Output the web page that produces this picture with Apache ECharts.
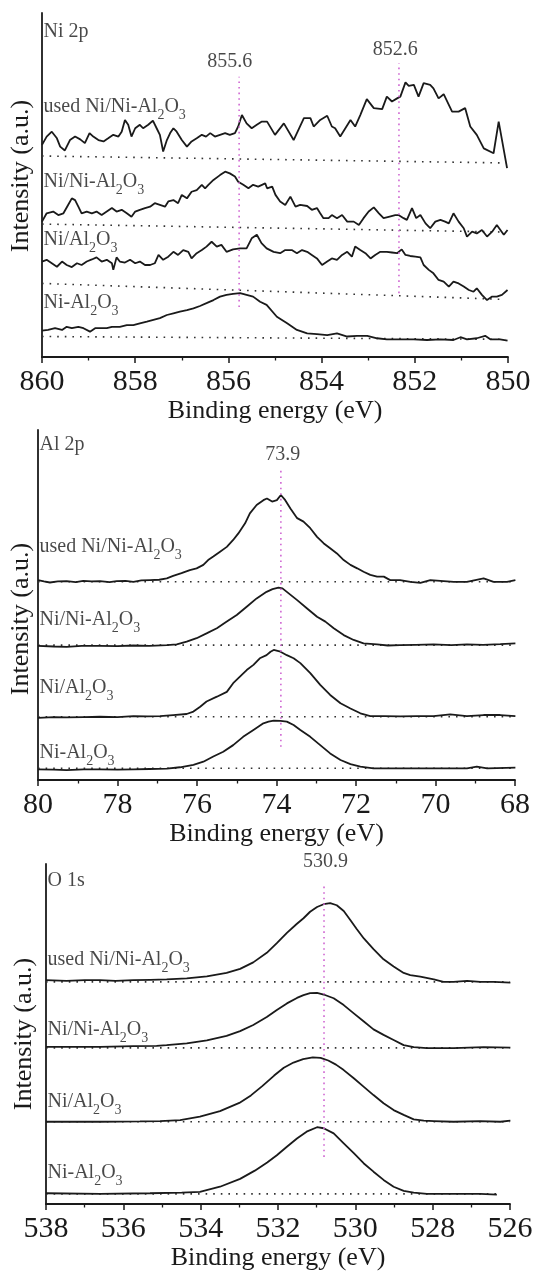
<!DOCTYPE html>
<html>
<head>
<meta charset="UTF-8">
<title>XPS Ni 2p / Al 2p / O 1s</title>
<script src="https://cdn.jsdelivr.net/npm/echarts@6/dist/echarts.min.js"></script>
<style>
body{margin:0;background:#fff;}
#chart{width:534px;height:1277px;}
</style>
</head>
<body>
<div id="chart"></div>
<script type="text/javascript">
// sample names (subscripts written as rich text)
var samples=['used Ni/Ni-Al{s|2}O{s|3}','Ni/Ni-Al{s|2}O{s|3}','Ni/Al{s|2}O{s|3}','Ni-Al{s|2}O{s|3}'];
var seriesNames=['used Ni/Ni-Al2O3','Ni/Ni-Al2O3','Ni/Al2O3','Ni-Al2O3'];

// ---- Ni 2p : [binding energy, intensity a.u.] ----
var ni2p_used=[[860.0,61.1],[859.9,63.5],[859.79,64.9],[859.68,63.0],[859.61,60.6],[859.51,59.5],[859.4,62.5],[859.29,63.5],[859.18,62.7],[859.08,61.6],[858.98,64.5],[858.9,63.5],[858.79,62.5],[858.68,62.1],[858.58,63.0],[858.47,64.0],[858.36,63.5],[858.29,64.9],[858.22,68.3],[858.15,66.9],[858.08,63.5],[858.0,65.9],[857.9,66.9],[857.83,65.9],[857.72,66.9],[857.62,68.1],[857.54,65.9],[857.47,64.0],[857.4,59.2],[857.32,62.5],[857.25,64.5],[857.18,65.9],[857.11,64.9],[857.0,62.5],[856.89,60.6],[856.79,62.1],[856.68,63.0],[856.57,64.0],[856.48,63.5],[856.39,64.5],[856.29,63.5],[856.18,64.0],[856.07,64.5],[855.97,64.0],[855.86,64.5],[855.79,66.4],[855.71,69.7],[855.61,67.3],[855.5,65.9],[855.39,66.9],[855.29,67.8],[855.17,67.8],[855.0,64.0],[854.81,67.3],[854.6,62.5],[854.38,68.8],[854.24,68.8],[854.17,66.4],[854.03,68.3],[853.88,69.5],[853.78,66.4],[853.71,65.9],[853.6,63.5],[853.38,68.3],[853.28,66.4],[853.17,69.7],[853.03,74.3],[852.88,71.7],[852.7,71.4],[852.6,75.0],[852.49,73.6],[852.38,74.5],[852.31,75.0],[852.2,79.1],[852.13,78.1],[852.02,78.4],[851.92,75.0],[851.81,78.9],[851.67,78.4],[851.6,77.4],[851.49,74.5],[851.38,75.7],[851.2,70.7],[851.06,70.7],[850.92,71.7],[850.81,66.4],[850.67,64.0],[850.52,60.1],[850.31,58.7],[850.2,67.8],[850.02,54.4]];
var ni2p_ninial=[[860.0,39.0],[859.9,41.4],[859.76,41.9],[859.65,40.9],[859.54,41.4],[859.44,43.8],[859.36,45.7],[859.29,45.2],[859.22,43.3],[859.15,41.4],[859.04,41.9],[858.93,41.4],[858.83,41.9],[858.72,40.9],[858.61,41.9],[858.5,42.9],[858.4,41.9],[858.29,42.4],[858.18,41.4],[858.08,40.4],[858.0,41.9],[857.9,42.4],[857.79,42.9],[857.68,43.3],[857.58,44.3],[857.47,43.8],[857.36,43.3],[857.29,44.8],[857.18,45.2],[857.08,44.3],[857.0,46.7],[856.89,45.7],[856.79,47.6],[856.68,48.1],[856.57,49.6],[856.5,48.6],[856.43,49.6],[856.32,51.0],[856.18,52.4],[856.07,53.4],[855.97,52.9],[855.86,52.0],[855.79,50.5],[855.68,49.6],[855.57,48.6],[855.47,49.6],[855.36,49.1],[855.21,50.0],[855.17,48.6],[855.06,49.1],[854.99,46.7],[854.89,44.8],[854.78,43.8],[854.67,46.2],[854.56,43.3],[854.46,43.8],[854.31,43.5],[854.21,42.4],[854.1,42.9],[854.03,41.4],[853.96,40.0],[853.85,40.0],[853.78,40.9],[853.67,40.0],[853.56,40.9],[853.45,39.0],[853.31,39.0],[853.2,38.0],[853.1,40.0],[852.99,41.9],[852.88,43.1],[852.77,41.4],[852.67,40.0],[852.56,40.4],[852.42,40.9],[852.35,40.9],[852.24,40.0],[852.17,39.5],[852.06,42.9],[851.97,40.0],[851.88,40.9],[851.77,38.5],[851.67,37.1],[851.56,39.0],[851.45,39.5],[851.35,39.0],[851.27,38.5],[851.17,41.4],[851.06,39.0],[850.95,37.1],[850.88,34.7],[850.77,36.1],[850.67,35.6],[850.56,36.6],[850.45,34.7],[850.34,36.1],[850.24,38.0],[850.09,35.2],[850.01,36.6]];
var ni2p_nial=[[860.0,27.5],[859.9,28.0],[859.79,27.0],[859.68,26.0],[859.57,27.5],[859.47,26.5],[859.36,25.9],[859.25,27.0],[859.15,26.5],[859.04,27.5],[858.93,28.1],[858.83,28.7],[858.72,27.5],[858.61,28.0],[858.5,27.0],[858.47,25.1],[858.4,28.7],[858.33,27.5],[858.22,27.2],[858.11,28.0],[858.0,27.0],[857.9,27.5],[857.79,26.5],[857.68,26.5],[857.58,27.0],[857.5,29.4],[857.4,28.0],[857.29,28.9],[857.18,30.3],[857.08,29.4],[856.97,30.8],[856.86,30.3],[856.79,28.4],[856.68,29.9],[856.57,30.8],[856.47,31.8],[856.36,33.2],[856.25,31.8],[856.15,32.3],[856.04,30.3],[855.9,31.0],[855.75,31.3],[855.61,31.3],[855.5,34.2],[855.39,35.2],[855.29,32.8],[855.18,31.3],[855.03,30.3],[854.89,29.9],[854.78,30.8],[854.64,30.8],[854.53,29.9],[854.42,30.8],[854.31,30.3],[854.21,29.4],[854.1,28.4],[853.99,26.5],[853.88,27.5],[853.78,28.4],[853.67,28.0],[853.56,29.4],[853.45,30.3],[853.35,28.9],[853.28,31.8],[853.17,30.8],[853.06,29.9],[852.95,28.4],[852.85,29.4],[852.74,30.3],[852.6,30.3],[852.49,30.1],[852.38,29.9],[852.28,31.0],[852.2,29.4],[852.1,29.1],[851.99,28.9],[851.88,28.7],[851.81,26.5],[851.7,25.1],[851.6,24.1],[851.49,22.2],[851.38,21.7],[851.27,20.3],[851.17,21.7],[851.06,21.2],[850.95,20.3],[850.84,19.3],[850.74,18.8],[850.67,19.8],[850.56,17.9],[850.45,16.4],[850.34,17.4],[850.24,17.4],[850.13,17.9],[850.01,19.3]];
var ni2p_ni_al=[[860.0,7.6],[859.87,7.8],[859.72,8.3],[859.57,7.8],[859.47,8.7],[859.36,8.3],[859.22,8.7],[859.11,8.3],[858.97,7.3],[858.86,8.3],[858.75,8.3],[858.61,8.3],[858.5,8.7],[858.33,8.7],[858.18,9.2],[858.04,9.2],[857.9,9.7],[857.75,10.2],[857.61,10.7],[857.47,11.2],[857.32,12.1],[857.18,12.6],[857.04,13.1],[856.89,13.5],[856.75,14.0],[856.61,14.7],[856.47,15.5],[856.32,16.4],[856.18,17.4],[856.04,17.9],[855.9,18.2],[855.75,18.4],[855.61,17.9],[855.47,17.4],[855.32,15.9],[855.18,15.0],[854.96,11.6],[854.74,9.7],[854.53,7.8],[854.31,6.8],[854.1,6.6],[853.88,6.3],[853.67,6.8],[853.45,5.9],[853.24,6.1],[853.02,6.1],[852.81,5.4],[852.6,5.1],[852.31,5.1],[852.02,5.1],[851.74,4.9],[851.45,5.1],[851.17,4.9],[851.02,5.7],[850.88,5.1],[850.67,5.4],[850.49,6.1],[850.38,5.1],[850.17,5.1],[850.01,4.7]];
var ni2p_base=[[[860,57.9],[850.05,55.9]],[[860,38.3],[850.05,36.0]],[[860,21.2],[850.1,16.6]],[[860,5.9],[850.05,5.1]]];
var ni2p_peaks=[[855.77,14.4,80.7],[852.34,18.4,84.7]];
var ni2p_peakText=[['855.6',855.97,85.0],['852.6',852.42,88.5]];
var ni2p_labelY=[72.0,50.4,33.7,15.6];

// ---- Al 2p ----
var al2p_used=[[80.0,57.2],[79.85,56.8],[79.70,56.5],[79.5,56.8],[79.28,56.9],[79.05,56.6],[78.86,57.0],[78.65,56.8],[78.44,56.9],[78.2,56.6],[78.02,56.9],[77.8,57.0],[77.60,56.7],[77.4,57.1],[77.18,57.2],[76.95,57.3],[76.76,57.7],[76.60,58.4],[76.39,59.2],[76.18,60.1],[76.01,60.6],[75.84,61.6],[75.72,63.0],[75.59,64.0],[75.42,65.4],[75.25,66.8],[75.09,68.8],[74.96,70.7],[74.79,73.6],[74.67,76.5],[74.50,78.9],[74.33,80.3],[74.24,80.8],[74.11,79.9],[73.99,80.3],[73.89,81.8],[73.78,80.3],[73.65,77.9],[73.48,75.1],[73.32,74.1],[73.15,72.2],[72.98,69.7],[72.81,67.8],[72.65,66.4],[72.48,64.9],[72.31,63.0],[72.14,61.6],[71.97,60.6],[71.81,59.6],[71.64,58.7],[71.47,58.2],[71.30,58.2],[71.14,57.2],[70.89,57.2],[70.63,56.7],[70.38,56.4],[70.13,57.2],[69.88,57.0],[69.54,56.7],[69.21,56.7],[68.79,57.7],[68.54,56.7],[68.20,56.7],[67.99,57.2]];
var al2p_ninial=[[80.0,38.2],[79.6,38.0],[79.28,37.9],[78.9,38.2],[78.44,38.2],[78.0,38.1],[77.60,38.3],[77.2,38.2],[76.76,38.4],[76.51,38.6],[76.26,39.4],[76.01,40.4],[75.76,41.8],[75.50,43.3],[75.25,45.2],[75.0,47.1],[74.75,49.5],[74.50,51.9],[74.25,53.8],[74.1,54.6],[73.95,55.0],[73.85,54.8],[73.74,53.8],[73.48,51.4],[73.23,49.0],[72.98,46.6],[72.77,45.2],[72.56,43.3],[72.31,41.3],[72.06,39.9],[71.81,38.9],[71.47,38.6],[71.2,38.3],[70.89,38.4],[70.5,38.5],[70.05,38.6],[69.6,38.4],[69.21,38.6],[68.8,38.5],[68.37,38.7],[67.99,38.9]];
var al2p_nial=[[80.0,17.4],[79.6,17.6],[79.28,17.5],[78.85,17.6],[78.44,17.7],[78.0,17.6],[77.60,17.9],[77.25,17.8],[76.93,17.9],[76.60,18.2],[76.26,18.5],[76.09,19.2],[75.92,20.6],[75.76,22.1],[75.50,23.5],[75.25,24.9],[75.09,27.4],[74.92,29.3],[74.75,31.2],[74.58,32.7],[74.42,34.6],[74.25,35.5],[74.15,36.5],[74.07,37.0],[73.90,36.5],[73.74,35.5],[73.57,34.6],[73.40,33.2],[73.15,30.3],[72.90,26.9],[72.65,24.0],[72.39,21.6],[72.14,20.1],[71.89,18.7],[71.64,17.9],[71.30,17.9],[70.89,17.8],[70.47,17.9],[70.05,17.9],[69.63,18.4],[69.21,17.9],[68.79,18.2],[68.37,18.2],[67.99,17.9]];
var al2p_ni_al=[[80.0,2.5],[79.6,2.4],[79.28,2.3],[78.85,2.5],[78.44,2.5],[78.0,2.4],[77.60,2.5],[77.2,2.6],[76.76,2.7],[76.43,3.1],[76.09,3.8],[75.84,4.7],[75.59,6.2],[75.34,7.6],[75.09,9.5],[74.84,11.9],[74.58,13.9],[74.33,15.8],[74.2,16.3],[74.07,16.6],[73.90,16.5],[73.74,16.3],[73.57,15.3],[73.40,13.9],[73.15,11.9],[72.90,9.5],[72.65,7.1],[72.39,5.2],[72.14,4.0],[71.89,3.3],[71.56,2.8],[70.89,2.8],[70.05,2.8],[69.21,2.8],[68.96,3.3],[68.70,2.8],[67.99,3.0]];
var al2p_base=[[[80,56.7],[68,56.7]],[[80,38.4],[68,38.4]],[[80,17.7],[68,17.7]],[[80,2.8],[68,2.8]]];
var al2p_peaks=[[73.89,9.0,89.6]];
var al2p_peakText=[['73.9',73.84,93.4]];
var al2p_labelY=[66.8,45.7,26.0,7.2];

// ---- O 1s ----
var o1s_used=[[538.0,67.5],[537.47,67.3],[537.0,67.5],[536.60,67.5],[536.2,67.3],[535.74,67.5],[535.3,67.6],[534.88,67.7],[534.36,68.0],[533.84,68.6],[533.33,69.6],[532.98,70.8],[532.64,72.7],[532.29,75.5],[532.03,78.3],[531.77,81.3],[531.51,84.0],[531.34,85.6],[531.17,87.5],[530.99,88.9],[530.82,89.7],[530.65,90.0],[530.48,89.4],[530.30,87.7],[530.13,85.1],[529.96,82.4],[529.78,79.7],[529.53,76.6],[529.27,73.6],[529.01,71.5],[528.75,69.6],[528.58,69.0],[528.32,68.5],[527.97,67.7],[527.72,67.0],[527.46,67.0],[527.11,67.3],[526.77,67.0],[526.42,67.0],[525.99,66.8]];
var o1s_ninial=[[538.0,48.0],[537.3,48.0],[536.6,48.0],[535.74,48.2],[535.14,48.3],[534.88,48.5],[534.36,49.0],[533.84,49.9],[533.33,51.2],[532.98,52.6],[532.64,54.4],[532.29,56.7],[532.03,58.8],[531.77,60.7],[531.51,62.3],[531.34,63.1],[531.17,63.7],[530.99,63.8],[530.82,63.3],[530.56,62.2],[530.30,60.2],[530.04,57.8],[529.78,55.4],[529.53,53.1],[529.27,51.5],[529.01,50.0],[528.75,48.5],[528.49,47.9],[528.15,47.6],[527.46,47.6],[526.68,47.9],[525.99,47.8]];
var o1s_nial=[[538.0,26.1],[536.6,26.1],[535.57,26.2],[535.05,26.3],[534.53,26.6],[534.02,27.6],[533.5,29.2],[533.0,31.6],[532.7,33.8],[532.4,36.6],[532.1,39.6],[531.85,41.9],[531.6,43.4],[531.35,44.4],[531.1,44.9],[530.9,44.8],[530.7,44.0],[530.5,42.8],[530.30,41.2],[530.04,38.8],[529.78,36.3],[529.53,33.9],[529.27,31.5],[529.01,29.5],[528.75,28.1],[528.49,26.8],[528.23,26.4],[527.97,26.3],[527.46,26.1],[526.77,26.3],[526.25,26.1],[525.99,26.4]];
var o1s_ni_al=[[538.0,5.2],[536.6,5.0],[535.31,5.2],[534.49,5.4],[534.02,5.6],[533.50,7.1],[532.98,9.4],[532.6,11.8],[532.28,14.2],[532.03,16.3],[531.77,18.8],[531.51,21.2],[531.26,23.2],[530.99,24.5],[530.82,24.2],[530.56,22.7],[530.30,19.8],[530.04,16.9],[529.78,13.9],[529.53,11.5],[529.27,9.1],[529.01,7.1],[528.75,5.9],[528.49,5.4],[528.15,5.0],[527.46,5.0],[526.77,5.0],[526.34,4.8]];
var o1s_base=[[[538,67.0],[526,67.0]],[[538,47.7],[526,47.7]],[[538,26.1],[526,26.1]],[[538,5.0],[526.3,5.0]]];
var o1s_peaks=[[530.81,15.8,96.0]];
var o1s_peakText=[['530.9',530.77,102.0]];
var o1s_labelY=[73.4,52.9,31.9,11.1];

var FONT='Liberation Serif';
var INK='#1a1a1a';

var panels=[
	{title:'Ni 2p',titleY:93.7,min:850,max:860,ymin:0,ymax:99.1,grid:{left:42,top:13,width:466,height:344},nameGap:8,namePad:[0,0,0,18],
	 curves:[ni2p_used,ni2p_ninial,ni2p_nial,ni2p_ni_al],base:ni2p_base,peaks:ni2p_peaks,peakText:ni2p_peakText,labelY:ni2p_labelY},
	{title:'Al 2p',titleY:96.2,min:68,max:80,ymin:-0.58,ymax:100.58,grid:{left:38,top:430,width:477,height:350},nameGap:4,namePad:[0,28,0,0],
	 curves:[al2p_used,al2p_ninial,al2p_nial,al2p_ni_al],base:al2p_base,peaks:al2p_peaks,peakText:al2p_peakText,labelY:al2p_labelY},
	{title:'O 1s',titleY:96.5,min:526,max:538,ymin:2.05,ymax:101.46,grid:{left:46,top:864,width:464,height:340},nameGap:9,namePad:0,
	 curves:[o1s_used,o1s_ninial,o1s_nial,o1s_ni_al],base:o1s_base,peaks:o1s_peaks,peakText:o1s_peakText,labelY:o1s_labelY}
];

var grids=[],xAxes=[],yAxes=[],series=[];
panels.forEach(function(p,i){
	grids.push({left:p.grid.left,top:p.grid.top,width:p.grid.width,height:p.grid.height,containLabel:false,outerBoundsMode:'none'});
	xAxes.push({
		gridIndex:i,type:'value',inverse:true,min:p.min,max:p.max,interval:2,
		name:'Binding energy (eV)',nameLocation:'middle',nameGap:37,
		nameTextStyle:{fontFamily:FONT,fontSize:26,color:INK},
		axisLine:{show:true,onZero:false,lineStyle:{color:INK,width:1.8}},
		axisTick:{show:true,inside:false,length:6,lineStyle:{color:INK,width:1.5}},
		minorTick:{show:true,splitNumber:2,length:3.5,lineStyle:{color:INK,width:1.3}},
		axisLabel:{fontFamily:FONT,fontSize:30,color:INK,margin:10,showMinLabel:true,showMaxLabel:true},
		splitLine:{show:false}
	});
	yAxes.push({
		gridIndex:i,type:'value',min:p.ymin,max:p.ymax,
		name:'Intensity (a.u.)',nameLocation:'middle',nameGap:p.nameGap,
		nameTextStyle:{fontFamily:FONT,fontSize:26,color:INK,padding:p.namePad},
		axisLine:{show:true,onZero:false,lineStyle:{color:INK,width:1.8}},
		axisTick:{show:false},axisLabel:{show:false},splitLine:{show:false}
	});
	// dotted baselines
	p.base.forEach(function(b,k){
		series.push({type:'line',name:seriesNames[k]+' baseline',xAxisIndex:i,yAxisIndex:i,data:b,showSymbol:false,silent:true,
			lineStyle:{color:'#333',width:1.6,type:[1.6,6]}});
	});
	// spectra
	p.curves.forEach(function(c,k){
		series.push({type:'line',name:seriesNames[k],xAxisIndex:i,yAxisIndex:i,data:c,showSymbol:false,silent:true,
			lineStyle:{color:INK,width:1.8}});
	});
	// peak position markers
	p.peaks.forEach(function(pk){
		series.push({type:'line',xAxisIndex:i,yAxisIndex:i,data:[[pk[0],pk[1]],[pk[0],pk[2]]],showSymbol:false,silent:true,
			lineStyle:{color:'#cf66d2',width:1.6,type:[1.6,4]}});
	});
	// texts
	var sub={s:{fontFamily:FONT,fontSize:14,color:INK,padding:[16,0,0,0]}};
	var txt=[{value:[p.max,p.titleY],name:p.title}];
	p.labelY.forEach(function(y,k){txt.push({value:[p.max,y],name:samples[k]});});
	series.push({type:'scatter',xAxisIndex:i,yAxisIndex:i,symbolSize:1,silent:true,clip:false,itemStyle:{color:'rgba(0,0,0,0)'},data:txt,
		label:{show:true,position:'right',distance:1,formatter:function(d){return d.name;},fontFamily:FONT,fontSize:20,color:INK,rich:sub}});
	series.push({type:'scatter',xAxisIndex:i,yAxisIndex:i,symbolSize:1,silent:true,clip:false,itemStyle:{color:'rgba(0,0,0,0)'},
		data:p.peakText.map(function(t){return {value:[t[1],t[2]],name:t[0]};}),
		label:{show:true,position:'inside',formatter:function(d){return d.name;},fontFamily:FONT,fontSize:20,color:INK}});
});

var mychart=echarts.init(document.getElementById('chart'));
mychart.setOption({
	animation:false,
	backgroundColor:'#fff',
	grid:grids,
	xAxis:xAxes,
	yAxis:yAxes,
	series:series
});
</script>
</body>
</html>
